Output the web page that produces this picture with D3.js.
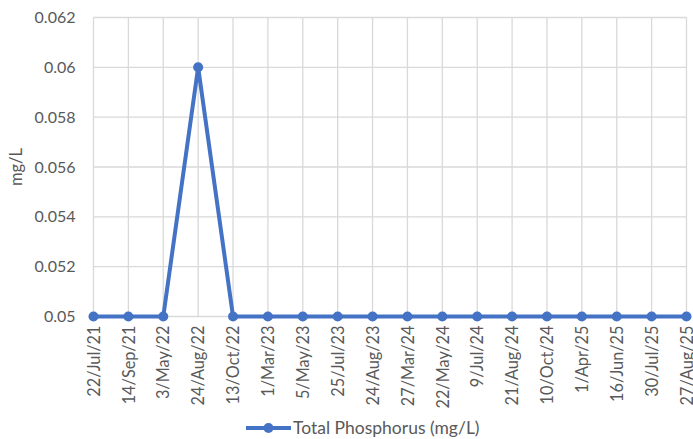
<!DOCTYPE html>
<html>
<head>
<meta charset="utf-8">
<script src="https://cdn.jsdelivr.net/npm/d3@7/dist/d3.min.js"></script>
<style>
  html, body { margin: 0; padding: 0; background: #fff; }
  svg text { font-family: Lato, "Open Sans", sans-serif; fill: #595959; }
</style>
</head>
<body>
<svg id="chart" width="693" height="439"></svg>
<script>
// Sampling dates and total phosphorus results (mg/L)
const dates = ["22/Jul/21", "14/Sep/21", "3/May/22", "24/Aug/22", "13/Oct/22", "1/Mar/23",
  "5/May/23", "25/Jul/23", "24/Aug/23", "27/Mar/24", "22/May/24", "9/Jul/24",
  "21/Aug/24", "10/Oct/24", "1/Apr/25", "16/Jun/25", "30/Jul/25", "27/Aug/25"];
const phosphorus = [0.05, 0.05, 0.05, 0.06, 0.05, 0.05, 0.05, 0.05, 0.05,
  0.05, 0.05, 0.05, 0.05, 0.05, 0.05, 0.05, 0.05, 0.05];
const yTicks = [0.05, 0.052, 0.054, 0.056, 0.058, 0.06, 0.062];
const seriesName = "Total Phosphorus (mg/L)";
const yTitle = "mg/L";

const svg = d3.select("#chart");
const plot = { left: 93.5, right: 686.5, top: 17.5, bottom: 316.5 };
const blue = "#4472C4";

const x = d3.scalePoint().domain(dates).range([plot.left, plot.right]);
const y = d3.scaleLinear().domain([0.05, 0.062]).range([plot.bottom, plot.top]);

// Gridlines
const grid = svg.append("g").attr("stroke", "#d9d9d9").attr("stroke-width", 1.3);
grid.selectAll("line.h").data(yTicks).join("line").attr("class", "h")
  .attr("x1", plot.left).attr("x2", plot.right)
  .attr("y1", d => y(d)).attr("y2", d => y(d));
grid.selectAll("line.v").data(dates).join("line").attr("class", "v")
  .attr("x1", d => x(d)).attr("x2", d => x(d))
  .attr("y1", plot.top).attr("y2", plot.bottom);

// Y axis labels
const yAxis = svg.append("g").attr("transform", `translate(${plot.left},0)`)
  .call(d3.axisLeft(y).tickValues(yTicks).tickFormat(d => String(+d.toFixed(3))).tickSize(0).tickPadding(18));
yAxis.select(".domain").remove();
yAxis.selectAll("text").style("font-size", "16px").attr("fill", "#595959");

// X axis labels (rotated)
const xAxis = svg.append("g").attr("transform", `translate(0,${plot.bottom})`)
  .call(d3.axisBottom(x).tickSize(0));
xAxis.select(".domain").remove();
xAxis.selectAll("text")
  .style("font-size", "16.3px")
  .attr("fill", "#595959")
  .attr("text-anchor", "end")
  .attr("dy", "0.35em")
  .attr("transform", "translate(0,9) rotate(-90)")
  .attr("x", 0).attr("y", 0);

// Axis title
svg.append("text")
  .attr("transform", `translate(22,${(plot.top + plot.bottom) / 2}) rotate(-90)`)
  .attr("text-anchor", "middle")
  .style("font-size", "16.5px")
  .text(yTitle);

// Series line and markers
const pts = dates.map((d, i) => [d, phosphorus[i]]);
svg.append("path")
  .datum(pts)
  .attr("fill", "none")
  .attr("stroke", blue)
  .attr("stroke-width", 4)
  .attr("stroke-linejoin", "round")
  .attr("d", d3.line().x(d => x(d[0])).y(d => y(d[1])));
svg.append("g").selectAll("circle").data(pts).join("circle")
  .attr("cx", d => x(d[0])).attr("cy", d => y(d[1]))
  .attr("r", 5).attr("fill", blue);

// Legend
const lg = svg.append("g").attr("transform", "translate(0,428)");
lg.append("line").attr("x1", 246).attr("x2", 291).attr("y1", 0).attr("y2", 0)
  .attr("stroke", blue).attr("stroke-width", 4);
lg.append("circle").attr("cx", 268.5).attr("cy", 0).attr("r", 5).attr("fill", blue);
lg.append("text").attr("x", 293).attr("y", 0).attr("dy", "0.35em")
  .style("font-size", "17.5px").text(seriesName);
</script>
</body>
</html>
